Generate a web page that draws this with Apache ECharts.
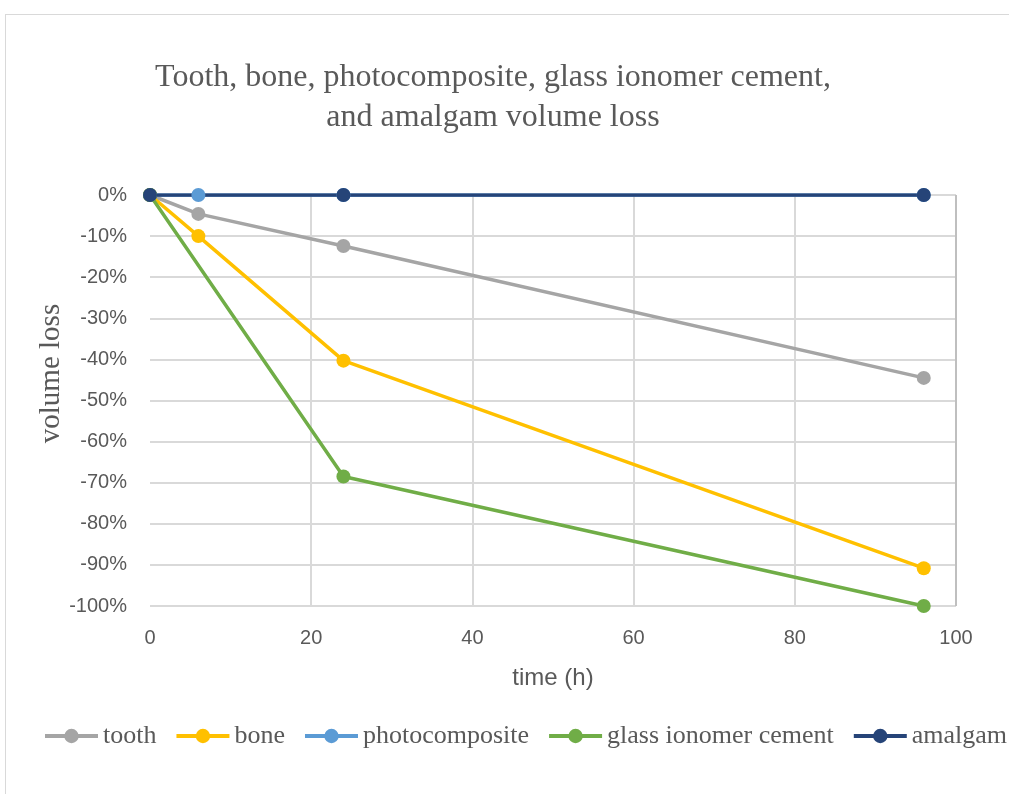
<!DOCTYPE html>
<html>
<head>
<meta charset="utf-8">
<script src="https://cdn.jsdelivr.net/npm/echarts@6/dist/echarts.min.js"></script>
<style>html,body{margin:0;padding:0;background:#fff;}#c{width:1009px;height:794px;}</style>
</head>
<body>
<div id="c"></div>
<script>
const seriesNames = ['tooth', 'bone', 'photocomposite', 'glass ionomer cement', 'amalgam'];
const toothTime = [0, 6, 24, 96];
const toothLoss = [0, -4.6, -12.4, -44.5];
const boneTime = [0, 6, 24, 96];
const boneLoss = [0, -10, -40.3, -90.8];
const photoTime = [0, 6, 24, 96];
const photoLoss = [0, 0, 0, 0];
const glassTime = [0, 24, 96];
const glassLoss = [0, -68.5, -100];
const amalgamTime = [0, 24, 96];
const amalgamLoss = [0, 0, 0];
const colors = ['#a5a5a5', '#ffc000', '#5b9bd5', '#70ad47', '#264478'];

const pairs = (t, v) => t.map((x, i) => [x, v[i]]);
const allData = [
  pairs(toothTime, toothLoss),
  pairs(boneTime, boneLoss),
  pairs(photoTime, photoLoss),
  pairs(glassTime, glassLoss),
  pairs(amalgamTime, amalgamLoss)
];

const chart = echarts.init(document.getElementById('c'));
chart.setOption({
  animation: false,
  color: colors,
  title: {
    text: 'Tooth, bone, photocomposite, glass ionomer cement,\nand amalgam volume loss',
    left: 488,
    textAlign: 'center',
    top: 53,
    textStyle: {
      fontFamily: 'Liberation Serif',
      fontWeight: 'normal',
      fontSize: 32,
      color: '#595959',
      lineHeight: 40
    }
  },
  graphic: [
    { type: 'line', shape: { x1: 5.5, y1: 14, x2: 5.5, y2: 794 }, style: { stroke: '#d9d9d9', lineWidth: 1 } },
    { type: 'line', shape: { x1: 5, y1: 14.5, x2: 1009, y2: 14.5 }, style: { stroke: '#d9d9d9', lineWidth: 1 } }
  ],
  legend: {
    data: seriesNames,
    left: 43,
    top: 723,
    width: 1000,
    padding: 0,
    itemWidth: 53,
    itemHeight: 18,
    itemGap: 18,
    lineStyle: { width: 4 },
    textStyle: { fontFamily: 'Liberation Serif', fontSize: 26, color: '#595959' }
  },
  grid: { left: 150, right: 53, top: 195, bottom: 188, containLabel: false },
  xAxis: {
    type: 'value',
    min: 0, max: 100, interval: 20,
    name: 'time (h)',
    nameLocation: 'middle',
    nameGap: 60,
    nameTextStyle: { fontFamily: 'Liberation Sans', fontSize: 24, color: '#595959' },
    axisLine: { show: false },
    axisTick: { show: false },
    axisLabel: { fontFamily: 'Liberation Sans', fontSize: 20, color: '#595959', margin: 22 },
    splitLine: { show: true, lineStyle: { color: ['rgba(0,0,0,0)', '#d9d9d9', '#d9d9d9', '#d9d9d9', '#d9d9d9', '#bfbfbf'], width: 2 } }
  },
  yAxis: {
    type: 'value',
    min: -100, max: 0, interval: 10,
    name: 'volume loss',
    nameLocation: 'middle',
    nameGap: 84,
    nameMoveOverlap: false,
    nameTextStyle: { fontFamily: 'Liberation Serif', fontSize: 29, color: '#595959', padding: [0, 0, 0, 54] },
    axisLine: { show: false },
    axisTick: { show: false },
    axisLabel: { formatter: '{value}%', fontFamily: 'Liberation Sans', fontSize: 20, color: '#595959', margin: 23 },
    splitLine: { show: true, lineStyle: { color: '#d9d9d9', width: 2 } }
  },
  series: seriesNames.map((n, i) => ({
    name: n,
    type: 'line',
    data: allData[i],
    symbol: 'circle',
    symbolSize: 14,
    lineStyle: { width: 3.5, color: colors[i] },
    itemStyle: { color: colors[i] }
  }))
});
</script>
</body>
</html>
